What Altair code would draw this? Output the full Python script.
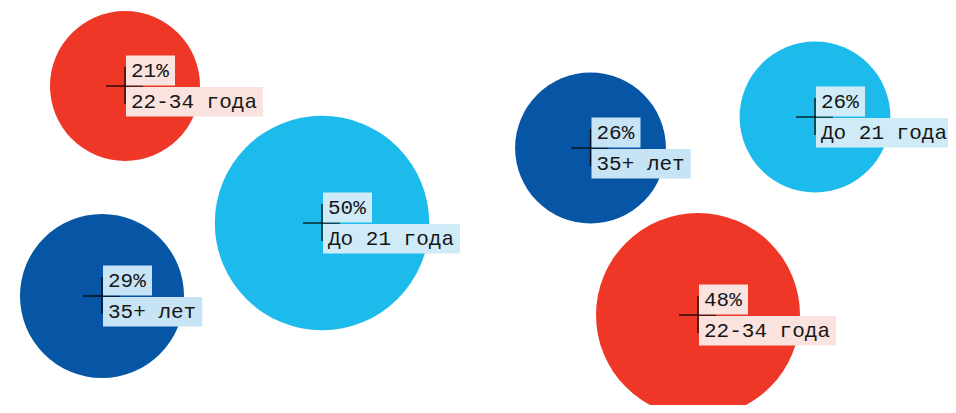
import altair as alt
import pandas as pd

# data
pcts = [21, 29, 50, 26, 26, 48]
labels = ["22-34 года", "35+ лет", "До 21 года", "35+ лет", "До 21 года", "22-34 года"]
groups = ["A", "A", "A", "B", "B", "B"]
xs = [125, 102, 322, 590.5, 815, 698]
ys = [86, 296, 223, 148, 117, 315]

cats = ["22-34 года", "До 21 года", "35+ лет"]
circle_colors = ["#EE3727", "#1CBBEC", "#0656A5"]
box_colors = ["#FAE2DF", "#CFEBF8", "#C7E3F6"]

df = pd.DataFrame({"pct": pcts, "label": labels, "grp": groups, "x": xs, "y": ys})

FONT = "Liberation Mono"
FS = 21
CW = 12.57   # char advance
PAD = 11.3

xscale = alt.Scale(domain=[8, 948], range=[0, 940], nice=False, zero=False)
yscale = alt.Scale(domain=[8, 405], range=[0, 397], nice=False, zero=False)


def X(f):
    return alt.X(f, type="quantitative", scale=xscale, axis=None)


def Y(f):
    return alt.Y(f, type="quantitative", scale=yscale, axis=None)


base = alt.Chart(df).transform_calculate(
    pcttxt="datum.pct + '%'",
    hx1="datum.x - 19", hx2="datum.x + 18",
    vy1="datum.y - 19", vy2="datum.y + 18",
    bx1="datum.x + 1",
    bx2t=f"datum.x + 1 + {CW} * length(datum.pct + '%') + {PAD}",
    bx2b=f"datum.x + 1 + {CW} * length(datum.label) + {PAD}",
    by1t="datum.y - 30.5", by2t="datum.y - 0.5",
    by1b="datum.y + 1", by2b="datum.y + 30.5",
    tx="datum.x + 6",
    tyt="datum.y - 15.5", tyb="datum.y + 16",
)

ccolor = alt.Color("label:N", scale=alt.Scale(domain=cats, range=circle_colors), legend=None)
bcolor = alt.Color("label:N", scale=alt.Scale(domain=cats, range=box_colors), legend=None)

circA = base.transform_filter("datum.grp == 'A'").mark_circle(opacity=1).encode(
    x=X("x"), y=Y("y"),
    size=alt.Size("pct:Q", scale=alt.Scale(domain=[21, 29, 50], range=[22500, 26896, 45968]), legend=None),
    color=ccolor,
)
circB = base.transform_filter("datum.grp == 'B'").mark_circle(opacity=1).encode(
    x=X("x"), y=Y("y"),
    size=alt.Size("pct:Q", scale=alt.Scale(domain=[26, 48], range=[22740, 41616]), legend=None),
    color=ccolor,
)

hrule = base.mark_rule(color="#000000", strokeWidth=1.5, opacity=0.8).encode(
    x=X("hx1"), x2="hx2:Q", y=Y("y"))
vrule = base.mark_rule(color="#000000", strokeWidth=1.5, opacity=0.8).encode(
    x=X("x"), y=Y("vy1"), y2="vy2:Q")

boxT = base.mark_rect().encode(x=X("bx1"), x2="bx2t:Q", y=Y("by1t"), y2="by2t:Q", color=bcolor)
boxB = base.mark_rect().encode(x=X("bx1"), x2="bx2b:Q", y=Y("by1b"), y2="by2b:Q", color=bcolor)

txtT = base.mark_text(align="left", baseline="middle", font=FONT, fontSize=FS, color="#161616").encode(
    x=X("tx"), y=Y("tyt"), text="pcttxt:N")
txtB = base.mark_text(align="left", baseline="middle", font=FONT, fontSize=FS, color="#161616").encode(
    x=X("tx"), y=Y("tyb"), text="label:N")

chart = alt.layer(circA, circB, hrule, vrule, boxT, boxB, txtT, txtB).resolve_scale(
    size="independent", color="independent"
).properties(
    width=940, height=397, padding=0,
    autosize=alt.AutoSizeParams(type="none"),
).configure_view(stroke=None)

chart.save("out.html", embed_options={"renderer": "svg", "actions": False})
